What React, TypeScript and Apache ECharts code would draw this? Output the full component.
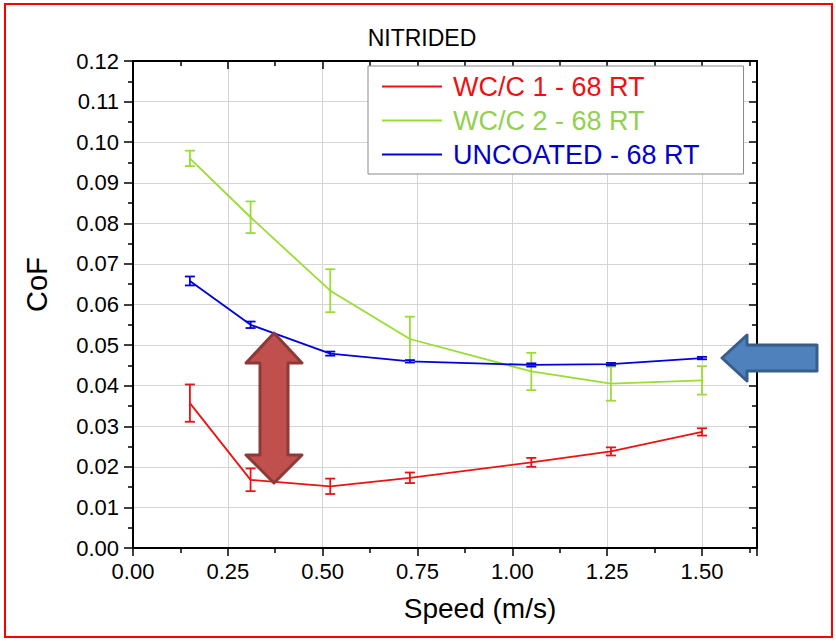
import React, { useEffect, useRef } from "react";
import * as echarts from "echarts";

const speed = [0.15, 0.31, 0.52, 0.73, 1.05, 1.26, 1.5];
const wc1 = [0.0357, 0.0168, 0.0152, 0.0173, 0.0211, 0.0238, 0.0286];
const wc1Err = [0.0046, 0.0028, 0.0019, 0.0013, 0.0011, 0.001, 0.0009];
const wc2 = [0.096, 0.0815, 0.0634, 0.0515, 0.0435, 0.0405, 0.0413];
const wc2Err = [0.0019, 0.0039, 0.0053, 0.0055, 0.0046, 0.0042, 0.0035];
const unc = [0.0658, 0.055, 0.0479, 0.046, 0.0451, 0.0453, 0.0468];
const uncErr = [0.0011, 0.0008, 0.0005, 0.0003, 0.0004, 0.0003, 0.0003];

const seriesNames = ["WC/C 1 - 68 RT", "WC/C 2 - 68 RT", "UNCOATED - 68 RT"];
const seriesColors = ["#EE1111", "#99DD33", "#0000DD"];
const legendColors = ["#EE1111", "#92D050", "#0000CC"];

const FONT = "Liberation Sans, Arial, sans-serif";

export default function App() {
  const ref = useRef<HTMLDivElement>(null);
  useEffect(() => {
    if (!ref.current) return;
    const chart = echarts.init(ref.current, null, { renderer: "svg" });
    const values = [wc1, wc2, unc];
    const errs = [wc1Err, wc2Err, uncErr];

    const lineSeries = values.map((vals, i) => ({
      type: "line",
      name: seriesNames[i],
      data: speed.map((x, j) => [x, vals[j]]),
      symbol: "none",
      color: seriesColors[i],
      lineStyle: { color: seriesColors[i], width: 1.8 },
      z: 3,
    }));

    const errSeries = values.map((vals, i) => ({
      type: "custom",
      name: seriesNames[i] + " err",
      data: speed.map((x, j) => [x, vals[j], errs[i][j]]),
      encode: { x: 0, y: 1 },
      z: 4,
      renderItem: (params: any, api: any) => {
        const x = api.value(0);
        const y = api.value(1);
        const e = api.value(2);
        const lo = api.coord([x, y - e]);
        const hi = api.coord([x, y + e]);
        const hw = 5;
        const style = { stroke: seriesColors[i], lineWidth: 1.8, fill: "none" };
        return {
          type: "group",
          children: [
            { type: "line", shape: { x1: lo[0], y1: lo[1], x2: hi[0], y2: hi[1] }, style },
            { type: "line", shape: { x1: lo[0] - hw, y1: lo[1], x2: lo[0] + hw, y2: lo[1] }, style },
            { type: "line", shape: { x1: hi[0] - hw, y1: hi[1], x2: hi[0] + hw, y2: hi[1] }, style },
          ],
        };
      },
    }));

    const axisLine = { show: true, onZero: false, lineStyle: { color: "#000", width: 2 } };
    const splitLine = { show: true, lineStyle: { color: "#d4d4d4", width: 1 } };

    chart.setOption({
      animation: false,
      backgroundColor: "#ffffff",
      title: {
        text: "NITRIDED",
        left: 422,
        textAlign: "center",
        top: 26,
        padding: 0,
        textStyle: { fontFamily: FONT, fontSize: 23, fontWeight: "normal", color: "#000" },
      },
      grid: { left: 133, top: 61, right: 79, bottom: 94, containLabel: false },
      xAxis: [
        {
          type: "value",
          position: "bottom",
          min: 0,
          max: 1.645,
          interval: 0.25,
          name: "Speed (m/s)",
          nameLocation: "middle",
          nameGap: 46,
          nameTextStyle: { fontFamily: FONT, fontSize: 28, color: "#000", padding: [0, 0, 0, 70] },
          axisLine,
          axisTick: { show: true, length: 8, lineStyle: { color: "#000", width: 1.5 } },
          minorTick: { show: true, splitNumber: 2, length: 5, lineStyle: { color: "#000", width: 1.5 } },
          splitLine,
          axisLabel: {
            showMaxLabel: false,
            margin: 12,
            fontFamily: FONT,
            fontSize: 22,
            color: "#000",
            formatter: (v: number) => v.toFixed(2),
          },
        },
        {
          type: "value",
          position: "top",
          min: 0,
          max: 1.645,
          interval: 0.25,
          axisLine,
          axisTick: { show: true, inside: true, length: 8, lineStyle: { color: "#000", width: 1.5 } },
          minorTick: { show: true, splitNumber: 2, length: 5, lineStyle: { color: "#000", width: 1.5 } },
          splitLine: { show: false },
          axisLabel: { show: false },
        },
      ],
      yAxis: [
        {
          type: "value",
          position: "left",
          min: 0,
          max: 0.12,
          interval: 0.01,
          name: "CoF",
          nameLocation: "middle",
          nameGap: 82,
          nameTextStyle: { fontFamily: FONT, fontSize: 29, color: "#000", padding: [0, 0, 0, 40] },
          axisLine,
          axisTick: { show: true, length: 9, lineStyle: { color: "#000", width: 1.5 } },
          minorTick: { show: true, splitNumber: 2, length: 5, lineStyle: { color: "#000", width: 1.5 } },
          splitLine,
          axisLabel: {
            margin: 14,
            fontFamily: FONT,
            fontSize: 22,
            color: "#000",
            formatter: (v: number) => v.toFixed(2),
          },
        },
        {
          type: "value",
          position: "right",
          min: 0,
          max: 0.12,
          interval: 0.01,
          axisLine,
          axisTick: { show: true, inside: true, length: 8, lineStyle: { color: "#000", width: 1.5 } },
          minorTick: { show: true, splitNumber: 2, length: 5, lineStyle: { color: "#000", width: 1.5 } },
          splitLine: { show: false },
          axisLabel: { show: false },
        },
      ],
      legend: {
        left: 368,
        top: 66,
        orient: "vertical",
        icon: "rect",
        itemWidth: 60,
        itemHeight: 2,
        itemGap: 7,
        padding: [7, 44, 6, 14],
        borderColor: "#8a8a8a",
        borderWidth: 1,
        backgroundColor: "#ffffff",
        textStyle: { fontFamily: FONT, fontSize: 27, lineHeight: 26, padding: [0, 0, 0, 6] },
        data: seriesNames.map((n, i) => ({ name: n, textStyle: { color: legendColors[i] } })),
      },
      series: [...lineSeries, ...errSeries],
      graphic: [
        {
          type: "rect",
          shape: { x: 5, y: 4, width: 827, height: 633 },
          style: { fill: "none", stroke: "#ff0000", lineWidth: 2 },
          z: 100,
          silent: true,
        },
        {
          type: "polygon",
          shape: {
            points: [
              [274, 333], [302, 363], [288, 363], [288, 455], [302, 455],
              [274, 483], [246, 455], [260, 455], [260, 363], [246, 363],
            ],
          },
          style: { fill: "#C0504D", stroke: "#8C3A38", lineWidth: 3, lineJoin: "round" },
          z: 100,
        },
        {
          type: "polygon",
          shape: {
            points: [
              [722, 358], [747, 335], [747, 345], [817, 345], [817, 371], [747, 371], [747, 381],
            ],
          },
          style: { fill: "#4F81BD", stroke: "#385D8A", lineWidth: 3, lineJoin: "round" },
          z: 100,
        },
      ],
    });
    return () => chart.dispose();
  }, []);
  return (
    <div
      ref={ref}
      style={{ position: "absolute", left: 0, top: 0, width: 836, height: 642 }}
    />
  );
}
